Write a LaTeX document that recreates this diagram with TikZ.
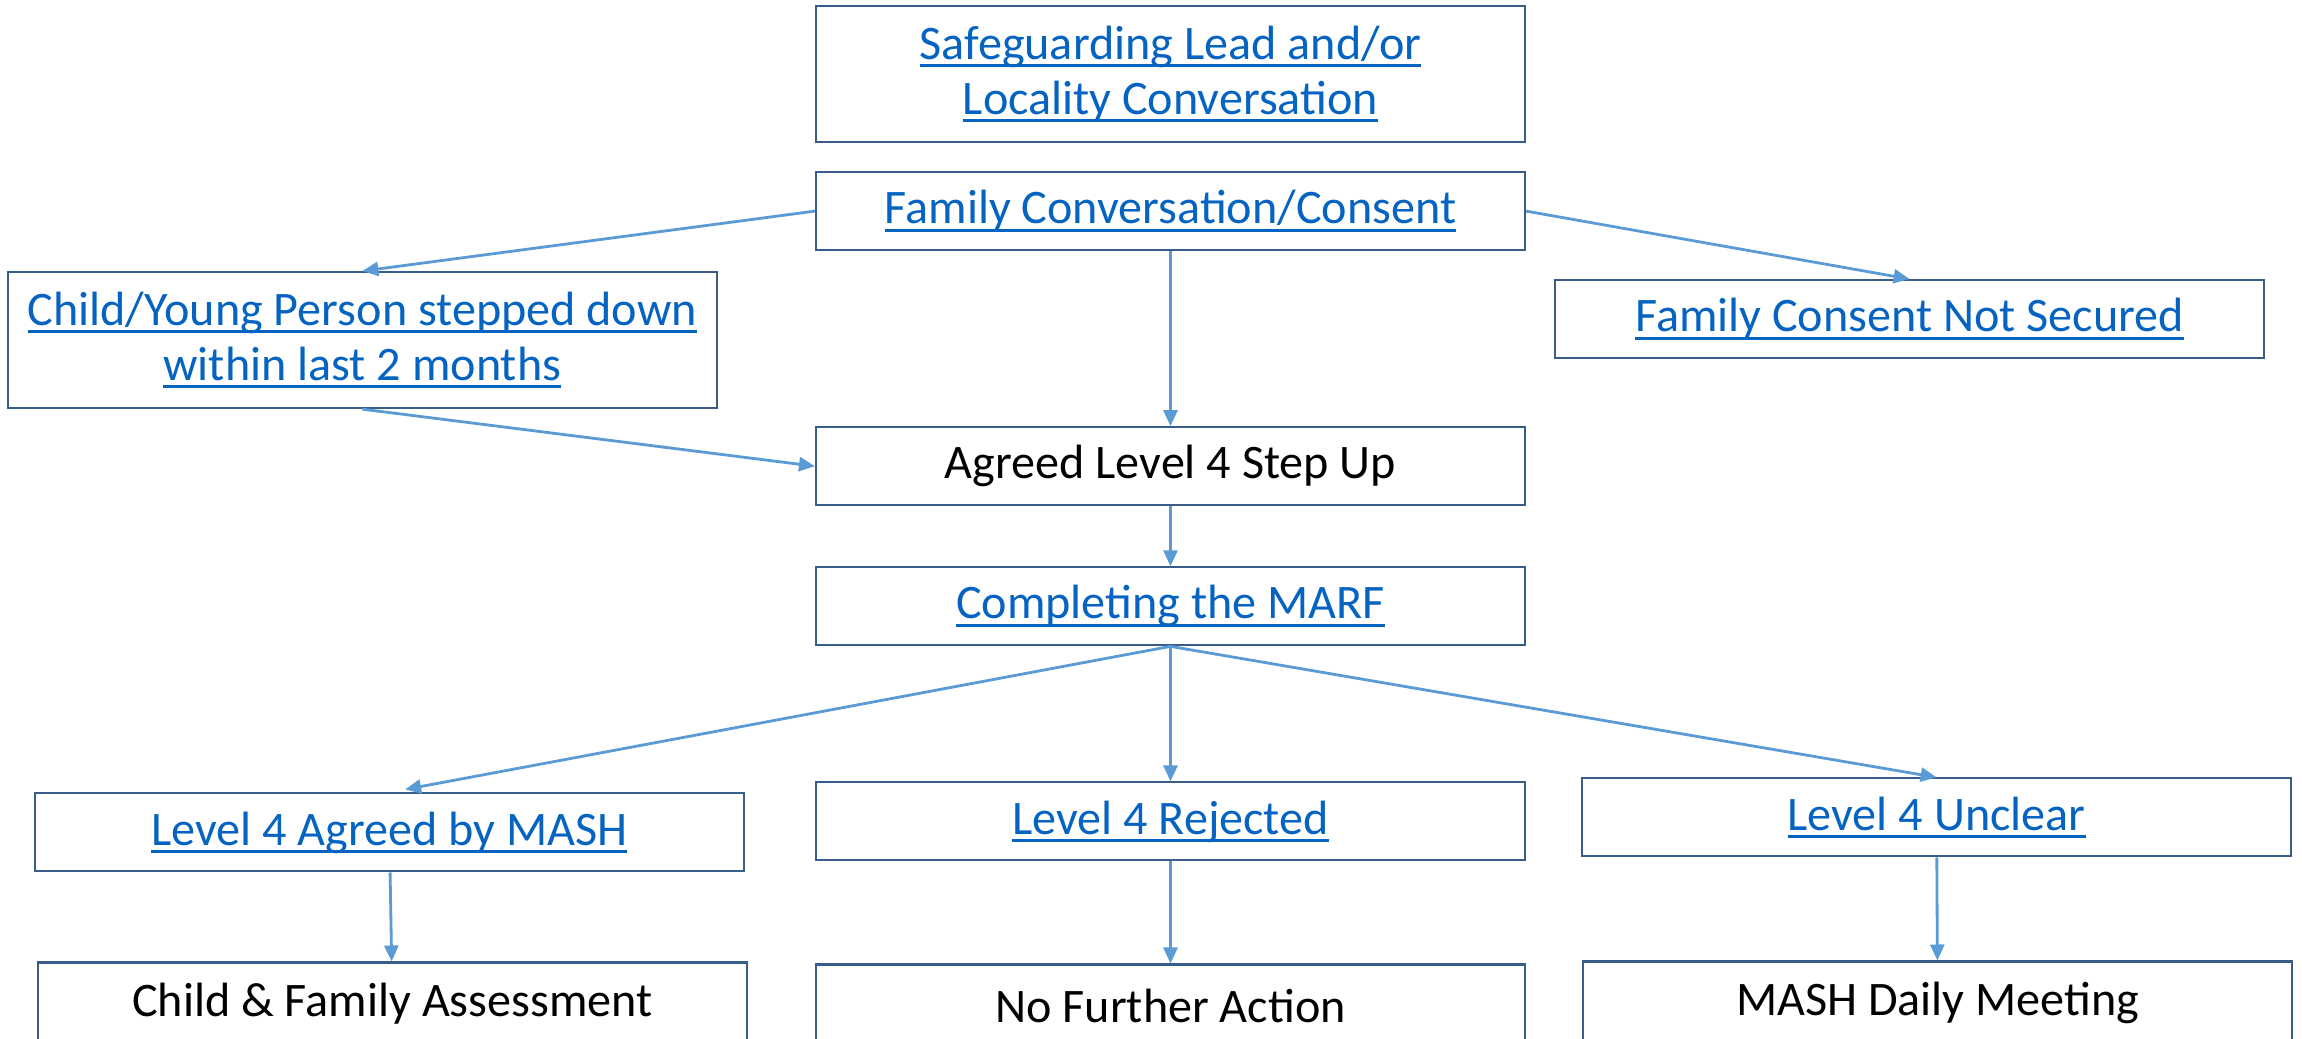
\documentclass[tikz,border=0pt]{standalone}
\usepackage{fontspec}
\setmainfont{Carlito}
\usetikzlibrary{arrows.meta, positioning}
\definecolor{linkblue}{HTML}{0563C1}
\definecolor{boxline}{HTML}{385D8A}
\definecolor{arrowblue}{HTML}{5B9BD5}
\newsavebox{\lnkbox}
\newcommand{\lnk}[1]{\textcolor{linkblue}{\sbox{\lnkbox}{#1}\rlap{\rule[-0.08cm]{\wd\lnkbox}{0.03cm}}\usebox{\lnkbox}}}

\begin{document}
\begin{tikzpicture}[
    node distance=0.6cm and 0.8cm,
    stage/.style={rectangle, draw=boxline, line width=0.6pt, minimum width=7.09cm, minimum height=0.78cm, inner sep=0pt, align=center, font={\fontsize{13.7pt}{15.6pt}\selectfont}},
    tall/.style={stage, minimum height=1.36cm},
    arrow/.style={-{Triangle[length=0.16cm, width=0.14cm]}, draw=arrowblue, line width=0.8pt},
]
\useasboundingbox (0,0) rectangle (23.02,-10.39);

% Conversation
\node[tall] (lead) at (11.705,-0.74) {\lnk{Safeguarding Lead and/or}\\\lnk{Locality Conversation}};
\node[stage, below=0.28cm of lead] (consent) {\lnk{Family Conversation/Consent}};

% Side branches
\node[tall, left=0.97cm of consent, yshift=-1.29cm] (stepdown) {\lnk{Child/Young Person stepped down}\\\lnk{within last 2 months}};
\node[stage, right=0.28cm of consent, yshift=-1.08cm] (nocons) {\lnk{Family Consent Not Secured}};

% Step up and MARF
\node[stage, below=1.75cm of consent] (stepup) {Agreed Level 4 Step Up};
\node[stage, below=0.60cm of stepup] (marf) {\lnk{Completing the MARF}};

% MASH outcomes
\node[stage, below=1.35cm of marf] (rejected) {\lnk{Level 4 Rejected}};
\node[stage, left=0.70cm of rejected, yshift=-0.11cm] (agreed) {\lnk{Level 4 Agreed by MASH}};
\node[stage, right=0.55cm of rejected, yshift=0.04cm] (unclear) {\lnk{Level 4 Unclear}};

% Next steps
\node[stage, minimum height=0.82cm, below=1.02cm of rejected] (nfa) {No Further Action};
\node[stage, minimum height=0.82cm, below=0.89cm of agreed, xshift=0.03cm] (assess) {Child \& Family Assessment};
\node[stage, minimum height=0.82cm, below=1.03cm of unclear, xshift=0.01cm] (daily) {MASH Daily Meeting};

% Arrows
\draw[arrow] (consent.west) -- (stepdown.north);
\draw[arrow] (consent.east) -- (nocons.north);
\draw[arrow] (consent) -- (stepup);
\draw[arrow] (stepdown.south) -- (stepup.west);
\draw[arrow] (stepup) -- (marf);
\draw[arrow, shorten >=0.16cm] (marf.south) -- (agreed.north);
\draw[arrow] (marf) -- (rejected);
\draw[arrow] (marf.south) -- (unclear.north);
\draw[arrow] (agreed) -- (assess);
\draw[arrow] (rejected) -- (nfa);
\draw[arrow] (unclear) -- (daily);

\end{tikzpicture}
\end{document}
